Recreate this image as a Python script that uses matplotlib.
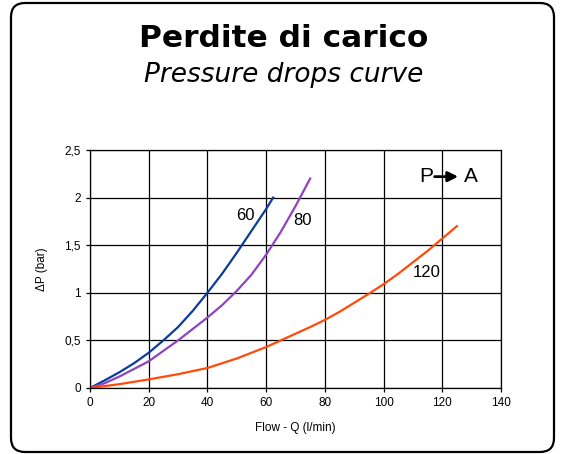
import numpy as np
import matplotlib.pyplot as plt
import matplotlib.patches as mpatches
from matplotlib.ticker import FuncFormatter

# Flow (l/min) vs pressure drop (bar) for each valve size
q_60 = [0, 5, 10, 15, 20, 25, 30, 35, 40, 45, 50, 55, 60, 62.4]
dp_60 = [0, 0.08, 0.165, 0.26, 0.37, 0.5, 0.64, 0.81, 1.0, 1.2, 1.42, 1.65, 1.88, 2.0]

q_80 = [0, 5, 10, 15, 20, 25, 30, 35, 40, 45, 50, 55, 60, 65, 70, 75]
dp_80 = [0, 0.05, 0.12, 0.2, 0.28, 0.39, 0.5, 0.62, 0.74, 0.87, 1.02, 1.19, 1.40, 1.64, 1.91, 2.2]

q_120 = [0, 5, 10, 15, 20, 30, 40, 50, 60, 65, 70, 75, 80, 85, 90, 95, 100, 105, 110,
         115, 120, 125]
dp_120 = [0, 0.02, 0.04, 0.065, 0.09, 0.145, 0.21, 0.31, 0.43, 0.50, 0.57, 0.64, 0.715,
          0.80, 0.895, 0.99, 1.09, 1.20, 1.32, 1.44, 1.57, 1.70]

x_ticks = [0, 20, 40, 60, 80, 100, 120, 140]
y_ticks = [0, 0.5, 1, 1.5, 2, 2.5]

plt.rcParams['font.family'] = ['Liberation Sans', 'DejaVu Sans']

fig = plt.figure(figsize=(5.61, 4.54), dpi=100)
ax = fig.add_axes([0.1604, 0.1454, 0.7326, 0.5242])

ax.plot(q_60, dp_60, color='#0a3c9c', lw=1.6, solid_joinstyle='round')
ax.plot(q_80, dp_80, color='#8e44c0', lw=1.6, solid_joinstyle='round')
ax.plot(q_120, dp_120, color='#ff4a0a', lw=1.6, solid_joinstyle='round')

ax.text(52.9, 1.81, '60', fontsize=12, ha='center', va='center')
ax.text(72.4, 1.76, '80', fontsize=12, ha='center', va='center')
ax.text(114.7, 1.21, '120', fontsize=12, ha='center', va='center')

# flow direction P -> A
ax.text(116.8, 2.22, 'P', fontsize=15, ha='right', va='center')
ax.annotate('', xy=(125.4, 2.22), xytext=(117.4, 2.22),
            arrowprops=dict(arrowstyle='-|>,head_width=0.3,head_length=0.6',
                            color='black', lw=2, shrinkA=0, shrinkB=0))
ax.text(127.5, 2.22, 'A', fontsize=15, ha='left', va='center')

ax.set_xlim(0, 140)
ax.set_ylim(0, 2.5)
ax.set_xticks(x_ticks)
ax.set_yticks(y_ticks)
ax.yaxis.set_major_formatter(FuncFormatter(lambda v, p: ('%g' % v).replace('.', ',')))
ax.grid(True, color='black', lw=0.9)
ax.tick_params(labelsize=8.5, length=3, width=0.9, color='black')
for s in ax.spines.values():
    s.set_color('black')
    s.set_linewidth(0.9)
ax.set_xlabel('Flow - Q (l/min)', fontsize=8.5, labelpad=9)
ax.set_ylabel('\u0394P (bar)', fontsize=8.5, labelpad=12)

fig.text(0.505, 0.897, 'Perdite di carico', fontsize=22.5, fontweight='bold',
         family='DejaVu Sans', ha='center', va='baseline')
fig.text(0.505, 0.820, 'Pressure drops curve', fontsize=19, style='italic',
         family='DejaVu Sans', ha='center', va='baseline')

frame = mpatches.FancyBboxPatch((11, 2), 543, 449, boxstyle='round,pad=0,rounding_size=14',
                                transform=None, fill=False, edgecolor='black', lw=1.6)
fig.patches.append(frame)

fig.savefig('out.png', dpi=100)
